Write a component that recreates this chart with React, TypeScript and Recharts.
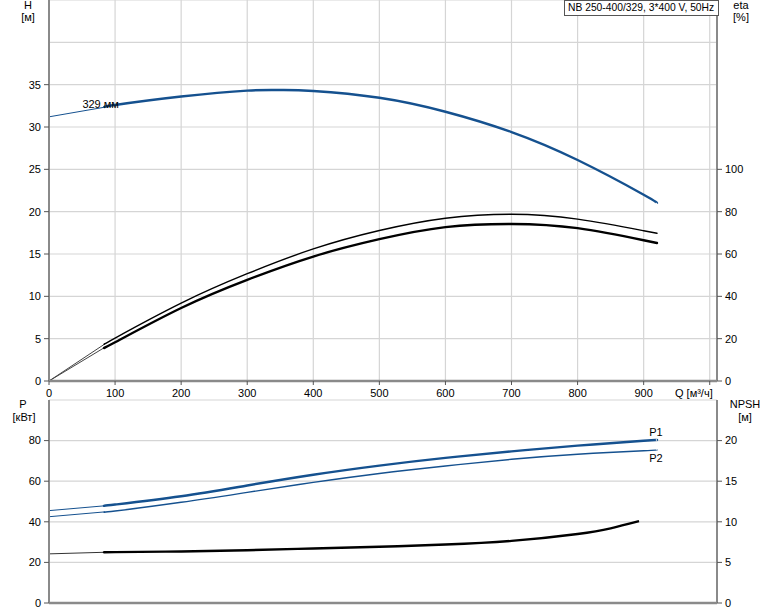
import React from 'react';
import { LineChart, Line, XAxis, YAxis, CartesianGrid } from 'recharts';

// axis ticks
const qTicks = [0, 100, 200, 300, 400, 500, 600, 700, 800, 900, 1000];
const hTicks = [0, 5, 10, 15, 20, 25, 30, 35, 40, 45];
const etaTicks = [0, 20, 40, 60, 80, 100, 120, 140, 160, 180];
const pTicks = [0, 20, 40, 60, 80, 100];
const npshTicks = [0, 5, 10, 15, 20, 25];

// head curve (329 mm impeller)
const qHead = [0, 85, 100, 200, 300, 350, 400, 500, 600, 700, 800, 900, 920];
const headM = [31.2, 32.35, 32.6, 33.6, 34.3, 34.37, 34.25, 33.45, 31.8, 29.4, 26.1, 22.0, 21.0];

// efficiency curves
const qEta = [0, 85, 100, 200, 300, 400, 500, 600, 700, 800, 900, 920];
const etaPump = [0, 17.6, 20.3, 36.8, 50.7, 62.4, 71.1, 76.9, 78.8, 76.5, 71.0, 69.8];
const etaTotal = [0, 16.0, 18.3, 34.5, 47.8, 58.8, 67.0, 72.7, 74.2, 72.2, 66.5, 65.2];

// power curves
const qPower = [0, 85, 100, 200, 300, 400, 500, 600, 700, 800, 900, 920];
const powerP1 = [45.5, 47.9, 48.5, 52.6, 57.9, 63.2, 67.7, 71.5, 74.7, 77.5, 79.9, 80.3];
const powerP2 = [42.5, 44.9, 45.3, 49.6, 54.5, 59.4, 63.8, 67.5, 70.8, 73.3, 75.0, 75.4];

// NPSH curve
const qNpsh = [0, 85, 100, 200, 300, 400, 500, 600, 700, 800, 850, 893];
const npshM = [6.05, 6.25, 6.27, 6.35, 6.5, 6.72, 6.92, 7.2, 7.65, 8.5, 9.2, 10.08];

const THICK_FROM = 85;
const BLUE = '#15518f';
const AXIS = '#8a8a8a';
const GRID = '#d5d5d5';
const FONT = '"Liberation Sans", Arial, sans-serif';

const toPoints = (qs: number[], vals: number[]) => qs.map((q, i) => ({ q, v: vals[i] }));
const thinPart = (qs: number[], vals: number[]) => toPoints(qs, vals).filter((p) => p.q <= THICK_FROM);
const thickPart = (qs: number[], vals: number[]) => toPoints(qs, vals).filter((p) => p.q >= THICK_FROM);

const LeftTick = (props: any) => {
	const { x, y, payload, maxLabel } = props;
	if (payload.value > maxLabel) return null;
	return (
		<g>
			<line x1={x + 3} x2={x + 8} y1={y} y2={y} stroke="#555" />
			<text x={x} y={y} dy="0.35em" textAnchor="end" fontSize={11} fontFamily={FONT} fill="#000">
				{payload.value}
			</text>
		</g>
	);
};

const RightTick = (props: any) => {
	const { x, y, payload, maxLabel } = props;
	if (payload.value > maxLabel) return null;
	return (
		<g>
			<line x1={x - 8} x2={x - 3} y1={y} y2={y} stroke="#555" />
			<text x={x} y={y} dy="0.35em" textAnchor="start" fontSize={11} fontFamily={FONT} fill="#000">
				{payload.value}
			</text>
		</g>
	);
};

const QTick = (props: any) => {
	const { x, y, payload } = props;
	const last = payload.value === 1000;
	return (
		<g>
			<line x1={x} x2={x} y1={y - 8} y2={y - 4} stroke="#555" />
			<text
				x={last ? x + 3 : x}
				y={y}
				dy="0.71em"
				textAnchor={last ? 'end' : 'middle'}
				fontSize={11}
				fontFamily={FONT}
				fill="#000"
			>
				{last ? 'Q [м³/ч]' : payload.value}
			</text>
		</g>
	);
};

const pointLabel = (text: string, index: number, dx: number, dy: number) => (props: any) => {
	const { x, y } = props;
	if (props.index !== index) return null;
	return (
		<text x={x + dx} y={y + dy} textAnchor="middle" fontSize={11} fontFamily={FONT} fill="#000">
			{text}
		</text>
	);
};

const Title = ({ x, y, children }: any) => (
	<div
		style={{
			position: 'absolute',
			left: x - 40,
			top: y - 7,
			width: 80,
			textAlign: 'center',
			fontFamily: FONT,
			fontSize: 11,
			lineHeight: '14px',
			color: '#000',
		}}
	>
		{children}
	</div>
);

const App = () => {
	const headThick = thickPart(qHead, headM);
	const p1Thick = thickPart(qPower, powerP1);
	const p2Thick = thickPart(qPower, powerP2);

	return (
		<div style={{ position: 'absolute', left: 0, top: 0, width: 774, height: 611, background: '#fff' }}>
			<div style={{ position: 'absolute', left: 0, top: 0 }}>
				<LineChart width={774} height={400} margin={{ top: 0, right: 0, bottom: 0, left: 0 }}>
					<CartesianGrid stroke={GRID} strokeWidth={1.2} />
					<XAxis
						dataKey="q"
						type="number"
						domain={[0, 1011]}
						ticks={qTicks}
						interval={0}
						height={19}
						tickSize={4}
						tickMargin={4}
						tickLine={false}
						axisLine={{ stroke: AXIS, strokeWidth: 2.5 }}
						tick={(p: any) => <QTick {...p} />}
						allowDataOverflow
					/>
					<YAxis
						type="number"
						domain={[0, 45]}
						ticks={hTicks}
						interval={0}
						width={49}
						tickSize={5}
						tickMargin={3}
						tickLine={false}
						axisLine={{ stroke: AXIS, strokeWidth: 2 }}
						tick={(p: any) => <LeftTick {...p} maxLabel={35} />}
						allowDataOverflow
					/>
					<YAxis
						yAxisId="eta"
						orientation="right"
						type="number"
						domain={[0, 180]}
						ticks={etaTicks}
						interval={0}
						width={57}
						tickSize={5}
						tickMargin={3}
						tickLine={false}
						axisLine={{ stroke: AXIS, strokeWidth: 2 }}
						tick={(p: any) => <RightTick {...p} maxLabel={100} />}
						allowDataOverflow
					/>
					<Line
						data={thinPart(qHead, headM)}
						dataKey="v"
						type="linear"
						stroke={BLUE}
						strokeWidth={1}
						dot={false}
						activeDot={false}
						isAnimationActive={false}
					/>
					<Line
						data={headThick}
						dataKey="v"
						type="natural"
						stroke={BLUE}
						strokeWidth={2.4}
						dot={false}
						activeDot={false}
						isAnimationActive={false}
						label={pointLabel('329 мм', 0, -4.5, 1)}
					/>
					<Line
						yAxisId="eta"
						data={thinPart(qEta, etaPump)}
						dataKey="v"
						type="linear"
						stroke="#444"
						strokeWidth={1}
						dot={false}
						activeDot={false}
						isAnimationActive={false}
					/>
					<Line
						yAxisId="eta"
						data={thickPart(qEta, etaPump)}
						dataKey="v"
						type="natural"
						stroke="#000"
						strokeWidth={1.4}
						dot={false}
						activeDot={false}
						isAnimationActive={false}
					/>
					<Line
						yAxisId="eta"
						data={thinPart(qEta, etaTotal)}
						dataKey="v"
						type="linear"
						stroke="#444"
						strokeWidth={1}
						dot={false}
						activeDot={false}
						isAnimationActive={false}
					/>
					<Line
						yAxisId="eta"
						data={thickPart(qEta, etaTotal)}
						dataKey="v"
						type="natural"
						stroke="#000"
						strokeWidth={2.4}
						dot={false}
						activeDot={false}
						isAnimationActive={false}
					/>
				</LineChart>
			</div>
			<div style={{ position: 'absolute', left: 0, top: 399 }}>
				<LineChart width={774} height={212} margin={{ top: 1, right: 0, bottom: 0, left: 0 }}>
					<CartesianGrid stroke={GRID} strokeWidth={1.2} />
					<XAxis
						dataKey="q"
						type="number"
						domain={[0, 1011]}
						ticks={qTicks}
						interval={0}
						height={8}
						tick={false}
						tickLine={false}
						axisLine={{ stroke: AXIS, strokeWidth: 2.5 }}
						allowDataOverflow
					/>
					<YAxis
						type="number"
						domain={[0, 100]}
						ticks={pTicks}
						interval={0}
						width={49}
						tickSize={5}
						tickMargin={3}
						tickLine={false}
						axisLine={{ stroke: AXIS, strokeWidth: 2 }}
						tick={(p: any) => <LeftTick {...p} maxLabel={80} />}
						allowDataOverflow
					/>
					<YAxis
						yAxisId="npsh"
						orientation="right"
						type="number"
						domain={[0, 25]}
						ticks={npshTicks}
						interval={0}
						width={57}
						tickSize={5}
						tickMargin={3}
						tickLine={false}
						axisLine={{ stroke: AXIS, strokeWidth: 2 }}
						tick={(p: any) => <RightTick {...p} maxLabel={20} />}
						allowDataOverflow
					/>
					<Line
						data={thinPart(qPower, powerP1)}
						dataKey="v"
						type="linear"
						stroke={BLUE}
						strokeWidth={1}
						dot={false}
						activeDot={false}
						isAnimationActive={false}
					/>
					<Line
						data={p1Thick}
						dataKey="v"
						type="natural"
						stroke={BLUE}
						strokeWidth={2.4}
						dot={false}
						activeDot={false}
						isAnimationActive={false}
						label={pointLabel('P1', p1Thick.length - 1, -1, -4)}
					/>
					<Line
						data={thinPart(qPower, powerP2)}
						dataKey="v"
						type="linear"
						stroke={BLUE}
						strokeWidth={1}
						dot={false}
						activeDot={false}
						isAnimationActive={false}
					/>
					<Line
						data={p2Thick}
						dataKey="v"
						type="natural"
						stroke={BLUE}
						strokeWidth={1.4}
						dot={false}
						activeDot={false}
						isAnimationActive={false}
						label={pointLabel('P2', p2Thick.length - 1, -1, 12)}
					/>
					<Line
						yAxisId="npsh"
						data={thinPart(qNpsh, npshM)}
						dataKey="v"
						type="linear"
						stroke="#333"
						strokeWidth={1}
						dot={false}
						activeDot={false}
						isAnimationActive={false}
					/>
					<Line
						yAxisId="npsh"
						data={thickPart(qNpsh, npshM)}
						dataKey="v"
						type="natural"
						stroke="#000"
						strokeWidth={2.4}
						dot={false}
						activeDot={false}
						isAnimationActive={false}
					/>
				</LineChart>
			</div>

			<Title x={28} y={5}>H</Title>
			<Title x={28} y={17}>[м]</Title>
			<Title x={741} y={5}>eta</Title>
			<Title x={741} y={17}>[%]</Title>
			<Title x={23} y={404}>P</Title>
			<Title x={24} y={417}>[кВт]</Title>
			<Title x={745} y={404}>NPSH</Title>
			<Title x={745} y={417}>[м]</Title>
			<div
				style={{
					position: 'absolute',
					left: 564,
					top: 0,
					width: 150,
					height: 14,
					border: '1px solid #555',
					background: '#fff',
					fontFamily: FONT,
					fontSize: 10.3,
					lineHeight: '14px',
					paddingLeft: 3,
					boxSizing: 'content-box',
					whiteSpace: 'nowrap',
					overflow: 'hidden',
					color: '#000',
				}}
			>
				NB 250-400/329, 3*400 V, 50Hz
			</div>
		</div>
	);
};

export default App;
